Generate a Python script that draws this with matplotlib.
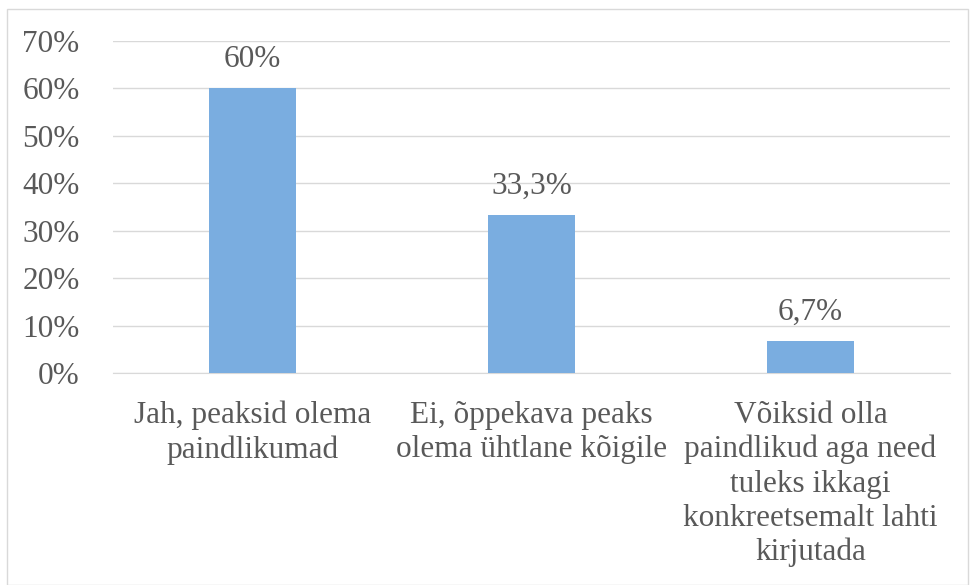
import matplotlib
matplotlib.use("Agg")
import matplotlib.pyplot as plt
from matplotlib.patches import Rectangle

categories = ["Jah, peaksid olema\npaindlikumad",
              "Ei, õppekava peaks\nolema ühtlane kõigile",
              "Võiksid olla\npaindlikud aga need\ntuleks ikkagi\nkonkreetsemalt lahti\nkirjutada"]
values = [60.0, 33.3, 6.7]
value_labels = ["60%", "33,3%", "6,7%"]
yticks = [0, 10, 20, 30, 40, 50, 60, 70]
ytick_labels = ["0%", "10%", "20%", "30%", "40%", "50%", "60%", "70%"]

W, H = 971, 585
fig = plt.figure(figsize=(W/100, H/100), dpi=100)
plt.rcParams['font.family'] = ['Liberation Serif', 'DejaVu Serif']
txt = '#595959'
fs = 22.5

# outer frame
fig.patches.append(Rectangle((7/W, 0), (968-7)/W, (H-9)/H, transform=fig.transFigure,
                             fill=False, edgecolor='#d9d9d9', linewidth=1))

ax = fig.add_axes([113/W, 1-373/H, (950-113)/W, (373-41)/H])
x = range(len(categories))
ax.bar(x, values, width=0.315, color='#7aade0', zorder=3)
ax.set_xlim(-0.5, 2.5)
ax.set_ylim(0, 70)
ax.set_yticks(yticks)
ax.set_yticklabels(ytick_labels, fontsize=fs, color=txt)
ax.set_xticks(list(x))
ax.set_xticklabels(categories, fontsize=fs, color=txt, linespacing=1.23)
ax.tick_params(axis='both', length=0)
ax.tick_params(axis='y', pad=24)
ax.tick_params(axis='x', pad=20)
ax.grid(axis='y', color='#d9d9d9', linewidth=1, zorder=0)
for s in ['top', 'right', 'left']:
    ax.spines[s].set_visible(False)
ax.spines['bottom'].set_color('#d9d9d9')
for xi, v, lab in zip(x, values, value_labels):
    ax.annotate(lab, (xi, v), xytext=(0, 10.5), textcoords='offset points',
                ha='center', va='bottom', fontsize=fs, color=txt)

fig.savefig("out.png", dpi=100)
